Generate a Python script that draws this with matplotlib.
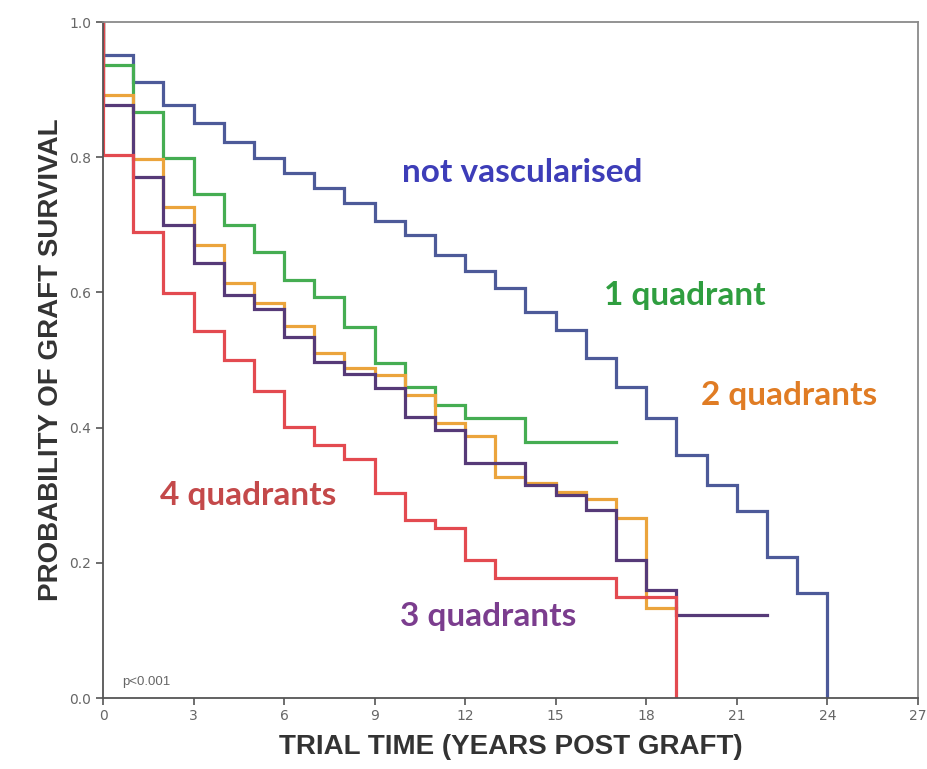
import numpy as np
import matplotlib
matplotlib.use("Agg")
import matplotlib.pyplot as plt

# step levels, one value per yearly interval starting at t=0
not_vasc = [0.951, 0.912, 0.877, 0.850, 0.823, 0.799, 0.777, 0.754, 0.732, 0.705,
            0.685, 0.655, 0.631, 0.607, 0.571, 0.544, 0.503, 0.460, 0.414, 0.359,
            0.315, 0.277, 0.209, 0.155]
not_vasc_end = 0.0
quad1 = [0.936, 0.867, 0.799, 0.746, 0.700, 0.660, 0.618, 0.594, 0.549, 0.495,
         0.460, 0.433, 0.414, 0.414, 0.379, 0.379, 0.379]
quad2 = [0.892, 0.797, 0.727, 0.670, 0.614, 0.584, 0.550, 0.510, 0.488, 0.478,
         0.448, 0.407, 0.387, 0.327, 0.318, 0.305, 0.295, 0.266, 0.133]
quad3 = [0.877, 0.771, 0.700, 0.643, 0.596, 0.575, 0.534, 0.497, 0.479, 0.459,
         0.416, 0.396, 0.348, 0.348, 0.315, 0.300, 0.278, 0.204, 0.160, 0.123,
         0.123, 0.123]
quad4 = [0.803, 0.690, 0.599, 0.543, 0.500, 0.454, 0.401, 0.374, 0.353, 0.303,
         0.263, 0.251, 0.204, 0.178, 0.178, 0.178, 0.178, 0.150, 0.150]
quad4_end = 0.0

x_ticks = [0, 3, 6, 9, 12, 15, 18, 21, 24, 27]
y_ticks = [0.0, 0.2, 0.4, 0.6, 0.8, 1.0]


def km_curve(levels, end=None):
    # times 0,0,1,2,...,n  values 1.0, levels..., last repeated or end value
    n = len(levels)
    t = [0] + list(range(n + 1))
    last = levels[-1] if end is None else end
    s = [1.0] + list(levels) + [last]
    return np.array(t), np.array(s)


fig = plt.figure(figsize=(9.28, 7.69), dpi=100)
ax = fig.add_axes([0.111, 0.0923, 0.878, 0.879])

curves = [
    (not_vasc, not_vasc_end, '#4d5a99'),
    (quad1, None, '#45ad52'),
    (quad2, None, '#eba43c'),
    (quad3, None, '#563a78'),
    (quad4, quad4_end, '#e34a50'),
]
for levels, end, col in curves:
    t, s = km_curve(levels, end)
    ax.step(t, s, where='post', color=col, lw=2.3, solid_joinstyle='miter')

ax.set_xlim(0, 27)
ax.set_ylim(0, 1.0)
ax.set_xticks(x_ticks)
ax.set_yticks(y_ticks)
ax.set_xticklabels([str(v) for v in x_ticks])
ax.set_yticklabels(['%.1f' % v for v in y_ticks])
ax.tick_params(direction='out', length=5, width=1.2, color='#555555',
               labelcolor='#666666', labelsize=10)
ax.tick_params(axis='x', pad=3)
for sp in ax.spines.values():
    sp.set_color('#8a8a8a')
    sp.set_linewidth(1.3)
ax.spines['left'].set_color('#555555')
ax.spines['bottom'].set_color('#555555')

lab_font = ['Liberation Sans', 'DejaVu Sans']
ax.set_xlabel('TRIAL TIME (YEARS POST GRAFT)', family=lab_font, fontweight='bold',
              fontsize=20, color='#333333', labelpad=8)
ax.set_ylabel('PROBABILITY OF GRAFT SURVIVAL', family=lab_font, fontweight='bold',
              fontsize=20, color='#333333', labelpad=4)

ann_font = ['Lato', 'DejaVu Sans']
ann_size = 24
ax.text(9.9, 0.777, 'not vascularised', color='#3d3db8', fontsize=ann_size,
        fontweight='bold', family=ann_font, va='center', ha='left')
ax.text(16.6, 0.595, '1 quadrant', color='#2f9e3f', fontsize=ann_size,
        fontweight='bold', family=ann_font, va='center', ha='left')
ax.text(19.8, 0.448, '2 quadrants', color='#e07c24', fontsize=ann_size,
        fontweight='bold', family=ann_font, va='center', ha='left')
ax.text(1.9, 0.299, '4 quadrants', color='#c4494a', fontsize=ann_size,
        fontweight='bold', family=ann_font, va='center', ha='left')
ax.text(9.83, 0.12, '3 quadrants', color='#7b3d8e', fontsize=ann_size,
        fontweight='bold', family=ann_font, va='center', ha='left')
ax.text(0.63, 0.024, 'p<0.001', color='#666666', fontsize=9.5,
        family=['Liberation Sans', 'DejaVu Sans'], va='center', ha='left')

fig.savefig('out.png', dpi=100)
